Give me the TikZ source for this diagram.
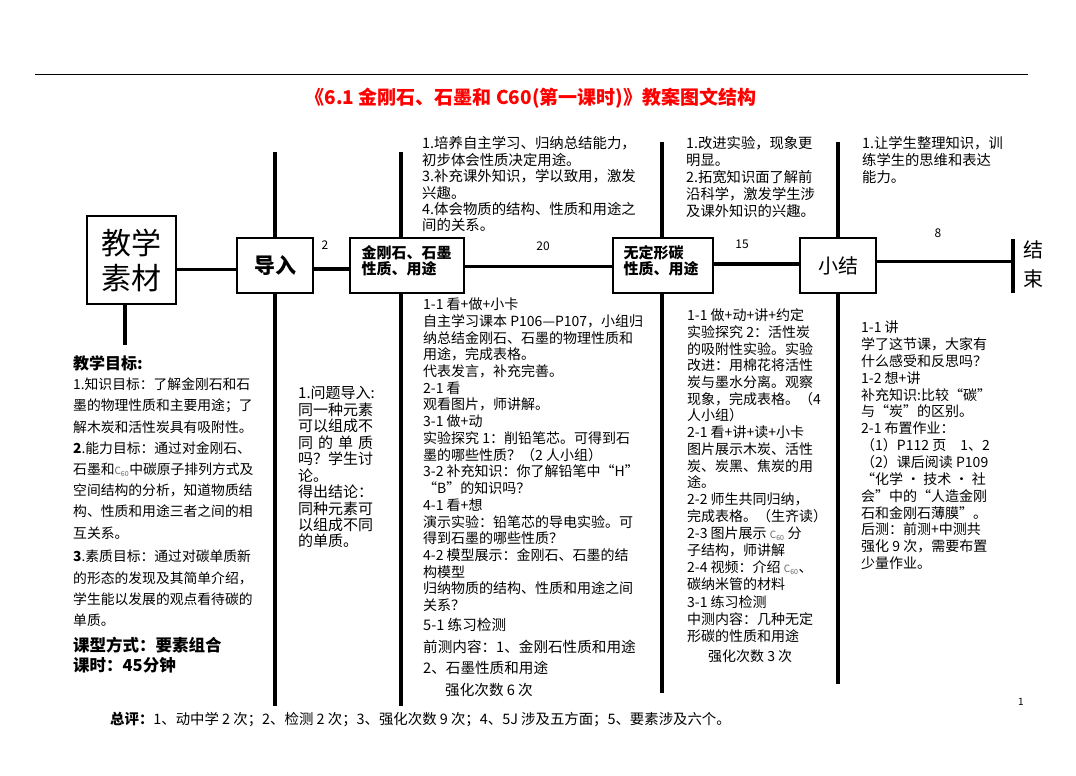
\documentclass[tikz,border=0pt]{standalone}
\usepackage{fontspec}
\setmainfont{Noto Sans CJK SC}
\usetikzlibrary{calc}
\newcommand{\csixty}{{\fontsize{10}{10}\selectfont C\textsubscript{60}}}
\begin{document}
\begin{tikzpicture}[x=1pt,y=-1pt,
  box/.style={draw, line width=1.3pt, fill=white, inner sep=0pt},
  mainline/.style={line width=3.6pt},
  vline/.style={line width=3.6pt},
  blk/.style={anchor=north west, inner sep=0pt, align=left},
  lbl/.style={inner sep=0pt, font=\fontsize{12}{14}\selectfont},
  boxtxt/.style={inner sep=0pt, align=left, font=\bfseries\fontsize{15}{16}\selectfont}
]
\useasboundingbox (0,0) rectangle (1076,776);
\fill[white] (0,0) rectangle (1076,776);

% top rule and title
\coordinate (ruleL) at (35,75);
\coordinate (ruleR) at (1028,75);
\draw[line width=1pt] (ruleL) -- (ruleR);
\node[inner sep=0pt, text=red, font=\bfseries\fontsize{19}{22}\selectfont] (title) at (531,98)
  {《6.1 金刚石、石墨和 C60(第一课时)》教案图文结构};

% named coordinates for vertical line ends
\coordinate (v1t) at (275,152);
\coordinate (v1b) at (275,706);
\coordinate (v2t) at (401,152);
\coordinate (v2b) at (401,706);
\coordinate (v3t) at (662,142);
\coordinate (v3b) at (662,693);
\coordinate (v4t) at (838,142);
\coordinate (v4b) at (838,684);
\coordinate (v0b) at (125,345);
\coordinate (endT) at (1013,239);
\coordinate (endB) at (1013,293);

% boxes
\node[box, line width=2pt, minimum width=89pt, minimum height=88pt, align=center,
      font=\fontsize{30}{35}\selectfont] (jx) at (131.5,260) {教学\\素材};
\node[box, minimum width=76pt, minimum height=55pt, font=\bfseries\fontsize{21}{24}\selectfont] (dr) at (275,265.5) {导入};
\node[box, minimum width=114pt, minimum height=55pt] (jgs) at (407,265.5) {};
\node[box, minimum width=100pt, minimum height=55pt] (wdx) at (663,265.5) {};
\node[box, minimum width=76pt, minimum height=55pt, font=\fontsize{20}{24}\selectfont] (xj) at (838,265.5) {小结};

\node[boxtxt, anchor=west] (jgsT) at ($(jgs.west)+(12,-5)$) {金刚石、石墨\\性质、用途};
\node[boxtxt, anchor=west] (wdxT) at ($(wdx.west)+(11,-5)$) {无定形碳\\性质、用途};

% vertical lines
\draw[vline, line width=4.5pt] (jx.south -| v0b) -- (v0b);
\draw[vline] (v1t) -- (dr.north);
\draw[vline] (dr.south) -- (v1b);
\draw[vline] (v2t) -- (v2t |- jgs.north);
\draw[vline] (v2t |- jgs.south) -- (v2b);
\draw[vline] (v3t) -- (v3t |- wdx.north);
\draw[vline] (v3t |- wdx.south) -- (v3b);
\draw[vline] (v4t) -- (xj.north);
\draw[vline] (xj.south) -- (v4b);

% main horizontal line
\draw[mainline] (jx.east |- 0,269.5) -- (dr.west |- 0,269.5);
\draw[mainline] (dr.east |- 0,269) -- (jgs.west |- 0,269);
\draw[mainline] (jgs.east |- 0,266.5) -- (wdx.west |- 0,266.5);
\draw[mainline] (wdx.east |- 0,264) -- (xj.west |- 0,264);
\draw[mainline] (xj.east |- 0,261.5) -- (endT |- 0,261.5);
\draw[line width=4.5pt] (endT) -- (endB);

% duration labels
\node[lbl] (l2) at (325,245) {2};
\node[lbl] (l20) at (543,246) {20};
\node[lbl] (l15) at (742,244) {15};
\node[lbl] (l8) at (938,233) {8};

% end label
\node[inner sep=0pt, align=center, font=\fontsize{20}{29}\selectfont] (end) at (1033,264.5) {结\\束};

% upper texts
\node[blk, font=\fontsize{14.4}{16.4}\selectfont] (ua) at (422,136.5) {1.培养自主学习、归纳总结能力，\\
初步体会性质决定用途。\\
3.补充课外知识，学以致用，激发\\
兴趣。\\
4.体会物质的结构、性质和用途之\\
间的关系。};
\node[blk, font=\fontsize{14.3}{16.8}\selectfont] (ub) at (686,136.5) {1.改进实验，现象更\\明显。\\2.拓宽知识面了解前\\沿科学，激发学生涉\\及课外知识的兴趣。};
\node[blk, font=\fontsize{14.3}{16.8}\selectfont] (uc) at (862,136.5) {1.让学生整理知识，训\\练学生的思维和表达\\能力。};

% left column
\node[blk, font=\bfseries\fontsize{16}{19}\selectfont] (lh) at (73,355) {教学目标:};
\node[blk, font=\fontsize{13.8}{21.2}\selectfont] (lb) at (73,377.8) {1.知识目标：了解金刚石和石\\
墨的物理性质和主要用途；了\\
解木炭和活性炭具有吸附性。\\
\textbf{2}.能力目标：通过对金刚石、\\
石墨和{\color{black!60}\csixty}中碳原子排列方式及\\
空间结构的分析，知道物质结\\
构、性质和用途三者之间的相\\
互关系。\\[2.6pt]
\textbf{3}.素质目标：通过对碳单质新\\
的形态的发现及其简单介绍，\\
学生能以发展的观点看待碳的\\
单质。};
\node[blk, font=\bfseries\fontsize{16.5}{20}\selectfont] (lf) at (73,636.6) {课型方式：要素组合\\课时：45分钟};

% lower texts
\node[blk, font=\fontsize{15}{16.45}\selectfont] (ld) at (298,386.3) {1.问题导入:\\同一种元素\\可以组成不\\\makebox[75pt][s]{同\hfill 的\hfill 单\hfill 质}\\吗？学生讨\\论。\\得出结论：\\同种元素可\\以组成不同\\的单质。};

\node[blk, font=\fontsize{14}{16.72}\selectfont] (le) at (423,297.7) {1-1 看+做+小卡\\
自主学习课本 P106—P107，小组归\\
纳总结金刚石、石墨的物理性质和\\
用途，完成表格。\\
代表发言，补充完善。\\
2-1 看\\
观看图片，师讲解。\\
3-1 做+动\\
实验探究 1：削铅笔芯。可得到石\\
墨的哪些性质？（2 人小组）\\
3-2 补充知识：你了解铅笔中“H”\\
“B”的知识吗？\\
4-1 看+想\\
演示实验：铅笔芯的导电实验。可\\
得到石墨的哪些性质？\\
4-2 模型展示：金刚石、石墨的结\\
构模型\\
归纳物质的结构、性质和用途之间\\
关系？};
\node[blk, font=\fontsize{14.6}{21.5}\selectfont] (le2) at (423,618.4) {5-1 练习检测\\前测内容：1、金刚石性质和用途\\2、石墨性质和用途\\\hspace{22pt}强化次数 6 次};

\node[blk, font=\fontsize{14}{16.7}\selectfont] (lf2) at (687,308.7) {1-1 做+动+讲+约定\\
实验探究 2：活性炭\\
的吸附性实验。实验\\
改进：用棉花将活性\\
炭与墨水分离。观察\\
现象，完成表格。（4\\
人小组）\\
2-1 看+讲+读+小卡\\
图片展示木炭、活性\\
炭、炭黑、焦炭的用\\
途。\\
2-2 师生共同归纳，\\
完成表格。（生齐读）\\[0.6pt]
2-3 图片展示 {\color{black!60}\csixty} 分\\
子结构，师讲解\\[0.6pt]
2-4 视频：介绍 {\color{black!60}\csixty}、\\
碳纳米管的材料\\[1.8pt]
3-1 练习检测\\[0.3pt]
中测内容：几种无定\\
形碳的性质和用途\\[3pt]
\hspace{21pt}强化次数 3 次};

\node[blk, font=\fontsize{14}{16.85}\selectfont] (lg) at (861,320.7) {1-1 讲\\
学了这节课，大家有\\
什么感受和反思吗？\\
1-2 想+讲\\
补充知识:比较“碳”\\
与“炭”的区别。\\
2-1 布置作业：\\
（1）P112 页\quad 1、2\\
（2）课后阅读 P109\\
“化学 · 技术 · 社\\
会”中的“人造金刚\\
石和金刚石薄膜”。\\
后测：前测+中测共\\
强化 9 次，需要布置\\
少量作业。};

% page number and summary
\node[inner sep=0pt, font=\fontsize{10}{12}\selectfont] (pg) at (1021,702) {1};
\node[anchor=west, inner sep=0pt, font=\fontsize{14.4}{16}\selectfont] (sum) at (110,719)
  {\textbf{总评：}1、动中学 2 次；2、检测 2 次；3、强化次数 9 次；4、5J 涉及五方面；5、要素涉及六个。};
\end{tikzpicture}
\end{document}
